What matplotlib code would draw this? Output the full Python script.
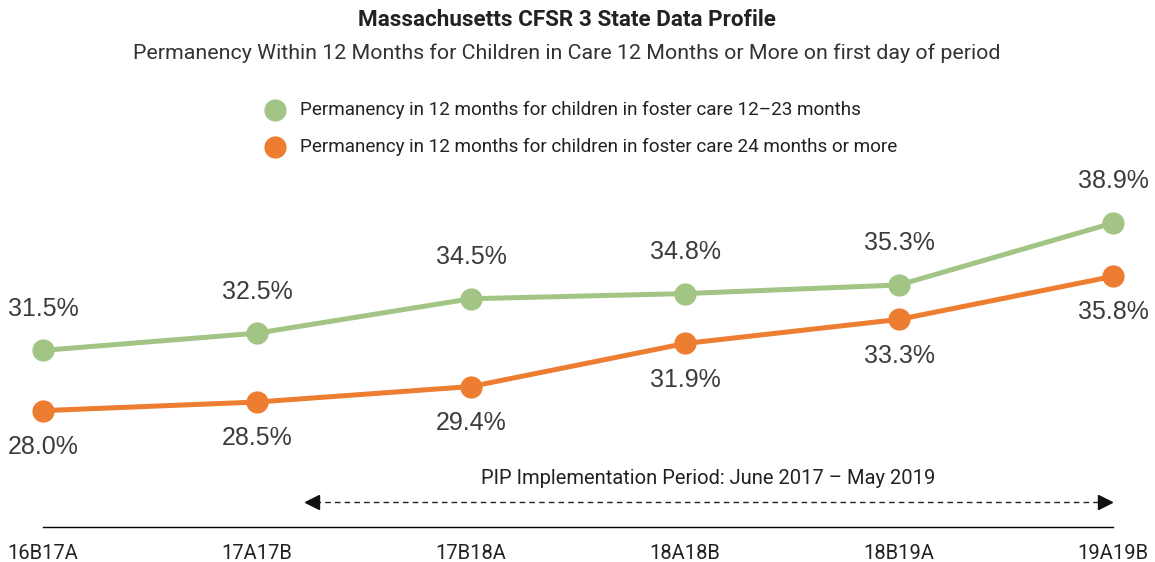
import matplotlib.pyplot as plt

periods = ["16B17A", "17A17B", "17B18A", "18A18B", "18B19A", "19A19B"]
perm_12_23 = [31.5, 32.5, 34.5, 34.8, 35.3, 38.9]
perm_24_plus = [28.0, 28.5, 29.4, 31.9, 33.3, 35.8]
legend_labels = ["Permanency in 12 months for children in foster care 12\u201323 months",
                 "Permanency in 12 months for children in foster care 24 months or more"]

green = "#a2c585"
orange = "#ed7d31"
narrow = ["Roboto", "DejaVu Sans"]
plt.rcParams["font.family"] = ["Liberation Sans", "DejaVu Sans"]

fig = plt.figure(figsize=(11.55, 5.62), dpi=100)
ax = fig.add_axes([43 / 1155, 35 / 562, (1113 - 43) / 1155, (527 - 223) / 562])
ax.set_xlim(0, 5)
ax.set_ylim(21.24, 38.9)

x = range(len(periods))
ax.plot(x, perm_12_23, color=green, lw=3.6, marker="o", ms=15, clip_on=False, zorder=3)
ax.plot(x, perm_24_plus, color=orange, lw=3.6, marker="o", ms=15, clip_on=False, zorder=3)

for i, v in enumerate(perm_12_23):
    ax.annotate(f"{v:.1f}%", (i, v), xytext=(0, 30), textcoords="offset points",
                ha="center", va="center", fontsize=18, color="#3c3c3c")
for i, v in enumerate(perm_24_plus):
    ax.annotate(f"{v:.1f}%", (i, v), xytext=(0, -26), textcoords="offset points",
                ha="center", va="center", fontsize=18, color="#3c3c3c")

for s in ["top", "right", "left"]:
    ax.spines[s].set_visible(False)
ax.spines["bottom"].set_linewidth(1.0)
ax.set_yticks([])
ax.set_xticks(list(x))
ax.set_xticklabels(periods, family=narrow, fontsize=14.5, color="#222222")
ax.tick_params(axis="x", length=0, pad=12)

# PIP implementation period arrow
tr = ax.get_xaxis_transform()
ax.plot([1.27, 4.95], [0.082, 0.082], transform=tr, color="#222222", lw=1,
        ls=(0, (4, 3)), clip_on=False)
ax.plot([1.257], [0.082], transform=tr, marker="<", color="#111111", ms=10, clip_on=False)
ax.plot([4.963], [0.082], transform=tr, marker=">", color="#111111", ms=10, clip_on=False)
ax.text(3.11, 0.161, "PIP Implementation Period: June 2017 \u2013 May 2019", transform=tr,
        ha="center", va="center", family=narrow, fontsize=14.5, color="#222222")

# titles
fig.text(567 / 1155, 1 - 20 / 562, "Massachusetts CFSR 3 State Data Profile",
         ha="center", va="center", family=narrow, fontweight="bold", fontsize=16.2, color="#222222")
fig.text(567 / 1155, 1 - 53 / 562,
         "Permanency Within 12 Months for Children in Care 12 Months or More on first day of period",
         ha="center", va="center", family=narrow, fontsize=15.4, color="#333333")

# legend
for yy, c, lab in zip([110, 147], [green, orange], legend_labels):
    fig.lines.append(plt.Line2D([275 / 1155], [1 - yy / 562], marker="o", ms=15, color=c,
                                transform=fig.transFigure))
    fig.text(300 / 1155, 1 - yy / 562, lab, ha="left", va="center",
             family=narrow, fontsize=13.6, color="#222222")

fig.savefig("out.png", dpi=100)
